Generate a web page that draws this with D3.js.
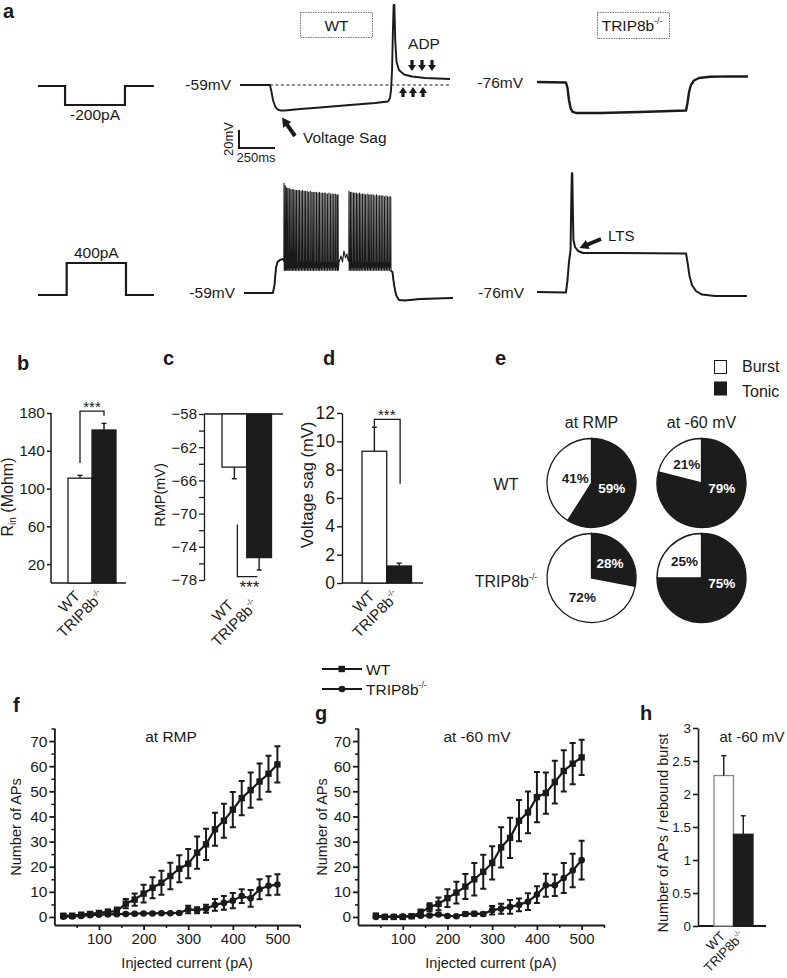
<!DOCTYPE html>
<html>
<head>
<meta charset="utf-8">
<script src="https://cdn.jsdelivr.net/npm/d3@7/dist/d3.min.js"></script>
<style>
  html,body{margin:0;padding:0;background:#fff;}
  svg{display:block;}
  text{font-family:"Liberation Sans",Arial,Helvetica,sans-serif;}
</style>
</head>
<body>
<svg id="fig" width="787" height="978" viewBox="0 0 787 978"></svg>
<script>
// ======================= DATA =======================
const genotypes = ["WT", "TRIP8b-/-"];

// b: input resistance (Mohm)
const rinValues = [111, 162];
const rinErrors = [3, 7];
const rinTicks = [20, 60, 100, 140, 180];

// c: resting membrane potential (mV)
const rmpValues = [-64.4, -75.3];
const rmpErrors = [1.4, 1.5];
const rmpTicks = [-58, -62, -66, -70, -74, -78];
const rmpMinorTicks = [-60, -64, -68, -72, -76];

// d: voltage sag (mV)
const sagValues = [9.3, 1.2];
const sagErrors = [1.7, 0.2];
const sagTicks = [0, 2, 4, 6, 8, 10, 12];

// e: firing mode percentages  [row WT / TRIP8b][column at RMP / at -60 mV]
const pieColumns = ["at RMP", "at -60 mV"];
const pieRows = ["WT", "TRIP8b-/-"];
const firingModes = ["Burst", "Tonic"];
const tonicPercent = [[59, 79], [28, 75]];
const burstPercent = [[41, 21], [72, 25]];

// f: number of APs at RMP
const fCurrents = [20,40,60,80,100,120,140,160,180,200,220,240,260,280,300,320,340,360,380,400,420,440,460,480,500];
const fWT    = [0.5,0.5,0.9,1.2,1.6,2.0,2.3,5.3,6.9,9.3,11.6,13.6,16.3,19.2,21.2,25.6,28.9,34.9,38.3,42.7,47.3,50.5,53.9,57.0,60.7];
const fWTErr = [0.6,0.6,0.6,0.7,0.8,1.0,1.5,1.8,2.4,3.5,4.2,4.8,5.3,5.4,5.8,6.4,6.2,6.6,6.8,7.0,6.8,7.0,7.2,7.2,7.2];
const fKO    = [0.1,0.2,0.4,0.7,0.9,1.0,1.1,1.2,1.3,1.4,1.4,1.5,1.5,1.6,3.0,2.7,3.3,4.8,5.6,6.5,8.3,7.4,11.0,12.4,12.9];
const fKOErr = [0.3,0.3,0.3,0.3,0.3,0.3,0.3,0.3,0.3,0.3,0.3,0.3,0.3,0.4,1.5,1.2,1.6,2.3,2.7,3.0,2.7,3.3,4.0,3.8,4.1];

// g: number of APs at -60 mV
const gCurrents = [40,60,80,100,120,140,160,180,200,220,240,260,280,300,320,340,360,380,400,420,440,460,480,500];
const gWT    = [0.5,0.0,0.0,0.0,0.3,1.8,3.9,5.2,7.5,9.7,12.1,15.0,18.0,21.5,27.7,31.5,38.3,41.6,47.7,49.3,53.7,58.1,61.0,63.5];
const gWTErr = [0.8,0.5,0.4,0.4,0.5,1.2,1.6,2.5,3.5,4.3,5.0,6.5,6.8,6.6,8.0,8.0,8.2,8.3,10.0,8.2,8.5,8.2,8.2,7.0];
const gKO    = [0.0,0.1,0.1,0.2,0.3,0.5,0.6,1.0,0.4,0.3,1.2,1.3,1.2,2.7,3.3,4.0,4.8,6.1,8.9,12.6,12.6,15.5,18.5,22.6];
const gKOErr = [0.3,0.3,0.3,0.3,0.3,0.3,0.3,0.4,0.3,0.3,0.8,0.8,0.6,1.7,2.0,2.7,2.5,3.3,3.3,4.6,4.3,6.0,6.7,7.7];

const apTicks = [0, 10, 20, 30, 40, 50, 60, 70];
const apMinorTicks = [5, 15, 25, 35, 45, 55, 65, 75];
const currentTicks = [100, 200, 300, 400, 500];
const currentMinorTicks = [50, 150, 250, 350, 450, 550];

// h: APs per rebound burst at -60 mV
const reboundValues = [2.28, 1.39];
const reboundErrors = [0.30, 0.28];
const reboundTicks = [0, 0.5, 1, 1.5, 2, 2.5, 3];
const reboundTickLabels = ["0", "0.5", "1", "1.5", "2", "2.5", "3"];

// a: stimulus protocols (ms, pA)
const stimNegTime = [0, 188, 188, 604, 604, 805];
const stimNegAmp  = [0, 0, -200, -200, 0, 0];
const stimPosTime = [0, 199, 199, 611, 611, 805];
const stimPosAmp  = [0, 0, 400, 400, 0, 0];
const restWT = -59, restKO = -76;
const scaleBarMs = 250, scaleBarMV = 20;

// a: voltage traces [ms, mV]
const wtHypTrace = [[0,-59],[208,-59],[219,-66.8],[229,-75.7],[243,-82.3],[257,-85.7],[278,-87.3],[313,-87.3],
  [417,-85.7],[556,-84],[764,-81.2],[938,-79],[1028,-77.3],[1042,-73.4],[1049,-64.6],[1056,-42.3],[1062,2],
  [1067,30],[1072,30],[1078,-9],[1087,-33.4],[1104,-42.3],[1139,-47.3],[1194,-49.6],[1285,-51.2],[1458,-52.3]];
const koHypTrace = [[0,-76],[201,-76.6],[212,-82.7],[222,-96],[233,-104.9],[247,-109.3],[271,-110.4],[438,-110.4],
  [715,-109.3],[1035,-107.7],[1045,-99.3],[1056,-87.1],[1069,-79.3],[1090,-74.3],[1125,-71.6],[1201,-70.2],
  [1340,-69.7],[1465,-69.9]];
const koDepTrace = [[0,-76],[201,-76.6],[212,-62.7],[222,-42.7],[233,-29.3],[238,26],[242,56],[245,56],[249,15],
  [253,-18],[264,-26],[285,-30.4],[319,-32.7],[576,-32.7],[1035,-33.2],[1045,-42.7],[1059,-58.2],[1076,-68.2],
  [1104,-74.9],[1146,-78.8],[1236,-80.4],[1458,-80.4]];
const wtDepPre  = [[0,-59],[201,-59],[212,-50],[222,-31],[233,-24.6],[250,-22.3],[271,-21.2]];
const wtDepGap  = [[660,-24.6],[674,-17.9],[684,-24.6],[694,-12.3],[705,-20],[715,-15.7],[722,-22.3]];
const wtDepPost = [[1031,-35.7],[1042,-50],[1056,-61.2],[1076,-66.8],[1118,-67.3],[1222,-65.7],[1451,-64.6]];
// spikes [time ms, peak mV]
const wtBurst1 = [[278,63],[287,60],[296,58],[305,57],[315,57],[325,56],[335,56],[345,56],[355,55],[365,55],
  [376,55],[386,55],[397,54],[407,55],[418,54],[428,54],[439,54],[449,53],[460,54],[471,53],[481,53],[492,53],
  [503,53],[514,52],[524,53],[535,52],[546,52],[557,52],[568,52],[579,51],[590,52],[601,51],[612,51],[623,51],
  [634,51],[645,50],[653,50]];
const wtBurst2 = [[729,54],[739,53],[749,53],[760,52],[770,52],[781,52],[791,51],[802,52],[812,51],[823,51],
  [834,51],[844,50],[855,51],[866,50],[876,50],[887,50],[898,50],[909,49],[920,50],[931,49],[942,49],[953,49],
  [964,49],[975,48],[986,49],[997,48],[1008,48],[1019,48]];
const spikeThresholdMV = -24, spikeTroughMV = -34;

// ======================= DRAWING =======================
const svg = d3.select("#fig");
const INK = "#1a1a1a";
const DARK = "#1c1c1c";

function txt(x, y, s, o = {}) {
  const t = svg.append("text").attr("x", x).attr("y", y)
    .attr("font-size", o.size || 15).attr("fill", o.fill || INK)
    .attr("text-anchor", o.anchor || "start");
  if (o.weight) t.attr("font-weight", o.weight);
  if (o.rotate !== undefined) t.attr("transform", `rotate(${o.rotate},${x},${y})`);
  if (s.endsWith("-/-")) {
    t.append("tspan").text(s.slice(0, -3));
    t.append("tspan").attr("font-size", (o.size || 15) * 0.55).attr("dy", -(o.size || 15) * 0.45).text("-/-");
  } else t.text(s);
  return t;
}
function styleAxis(sel, fs, sw) {
  sel.attr("font-size", fs).attr("font-family", null);
  sel.selectAll("path.domain").attr("stroke", INK).attr("stroke-width", sw);
  sel.selectAll(".tick line").attr("stroke", INK).attr("stroke-width", sw);
  sel.selectAll(".tick text").attr("fill", INK);
}
function arrow(x1, y1, x2, y2, shaft, headW, headL) {
  const dx = x2 - x1, dy = y2 - y1, L = Math.hypot(dx, dy), ux = dx / L, uy = dy / L, px = -uy, py = ux;
  const bx = x2 - ux * headL, by = y2 - uy * headL;
  const pts = [[x1 + px * shaft / 2, y1 + py * shaft / 2], [bx + px * shaft / 2, by + py * shaft / 2],
    [bx + px * headW / 2, by + py * headW / 2], [x2, y2], [bx - px * headW / 2, by - py * headW / 2],
    [bx - px * shaft / 2, by - py * shaft / 2], [x1 - px * shaft / 2, y1 - py * shaft / 2]];
  svg.append("path").attr("d", "M" + pts.map(p => p.join(",")).join("L") + "Z").attr("fill", INK);
}

// panel letters
[["a", 3, 18], ["b", 17, 370], ["c", 163, 365], ["d", 323, 365], ["e", 495, 365], ["f", 13, 712], ["g", 315, 720], ["h", 640, 720]]
  .forEach(([l, x, y]) => txt(x, y, l, { size: 20, weight: "bold" }));

// ---------- panel a ----------
const msPx = 0.144, mvPx = 0.9;
function traceScales(x0, yBase, vBase) {
  return {
    x: d3.scaleLinear().domain([0, 1000]).range([x0, x0 + 1000 * msPx]),
    y: d3.scaleLinear().domain([vBase, vBase + 100]).range([yBase, yBase - 100 * mvPx])
  };
}
function drawTrace(s, data, w) {
  svg.append("path").attr("d", d3.line().x(d => s.x(d[0])).y(d => s.y(d[1]))(data))
    .attr("fill", "none").attr("stroke", INK).attr("stroke-width", w).attr("stroke-linejoin", "round");
}
// stimuli
{
  const sx = d3.scaleLinear().domain([0, 1000]).range([38, 38 + 1000 * msPx]);
  const syN = d3.scaleLinear().domain([0, -200]).range([86, 105]);
  const syP = d3.scaleLinear().domain([0, 400]).range([295, 263]);
  const ln = (ys) => d3.line().x(d => sx(d[0])).y(d => ys(d[1]));
  svg.append("path").attr("d", ln(syN)(stimNegTime.map((t, i) => [t, stimNegAmp[i]])))
    .attr("fill", "none").attr("stroke", INK).attr("stroke-width", 2.2);
  svg.append("path").attr("d", ln(syP)(stimPosTime.map((t, i) => [t, stimPosAmp[i]])))
    .attr("fill", "none").attr("stroke", INK).attr("stroke-width", 2.2);
  txt(sx(396), 120, stimNegAmp[2] + "pA", { anchor: "middle", size: 15.5 });
  txt(sx(405), 258, stimPosAmp[2] + "pA", { anchor: "middle", size: 15.5 });
}
// WT hyperpolarising
{
  const s = traceScales(240, 85, restWT);
  drawTrace(s, wtHypTrace, 1.9);
  svg.append("line").attr("x1", s.x(208)).attr("x2", s.x(1458)).attr("y1", s.y(restWT)).attr("y2", s.y(restWT))
    .attr("stroke", INK).attr("stroke-width", 1).attr("stroke-dasharray", "3,2.5");
  txt(231, 90, restWT + "mV", { anchor: "end", size: 15.5 });
  // scale bar
  const bx = 239, by = 148;
  svg.append("path").attr("d", `M${bx},${by - scaleBarMV * mvPx}V${by}H${bx + scaleBarMs * msPx}`)
    .attr("fill", "none").attr("stroke", INK).attr("stroke-width", 2);
  txt(233, 139, scaleBarMV + "mV", { size: 13, anchor: "middle", rotate: -90 });
  txt(256, 162, scaleBarMs + "ms", { size: 13, anchor: "middle" });
  // sag arrow
  arrow(295, 136, s.x(292), s.y(-87.3) + 7, 4, 10, 9);
  txt(303, 143, "Voltage Sag", { size: 15.5 });
  // ADP
  txt(424, 49, "ADP", { size: 15.5, anchor: "middle" });
  [412, 422, 432].forEach(x => arrow(x, 60, x, 71, 3.2, 8, 6));
  [403, 413, 423].forEach(x => arrow(x, 97, x, 87, 3.2, 8, 6));
  // WT box
  svg.append("rect").attr("x", 300.5).attr("y", 12.5).attr("width", 72).attr("height", 25)
    .attr("fill", "none").attr("stroke", "#777").attr("stroke-width", 1).attr("stroke-dasharray", "1.5,1");
  txt(336.5, 31, genotypes[0], { size: 15.5, anchor: "middle" });
}
// TRIP8b hyperpolarising
{
  const s = traceScales(537, 82, restKO);
  drawTrace(s, koHypTrace, 2.4);
  txt(523, 88, restKO + "mV", { anchor: "end", size: 15.5 });
  svg.append("rect").attr("x", 597.5).attr("y", 12.5).attr("width", 72).attr("height", 26)
    .attr("fill", "none").attr("stroke", "#777").attr("stroke-width", 1).attr("stroke-dasharray", "1.5,1");
  txt(632, 31, genotypes[1], { size: 15.5, anchor: "middle" });
}
// WT depolarising
{
  const s = traceScales(244, 293, restWT);
  const spikes = (arr) => arr.flatMap(([t, p]) => [[t - 1.2, spikeThresholdMV], [t, p], [t + 1.5, spikeTroughMV]]);
  const pts = [...wtDepPre, ...spikes(wtBurst1), ...wtDepGap, ...spikes(wtBurst2), ...wtDepPost];
  drawTrace(s, pts, 1.1);
  drawTrace(s, wtDepPre, 1.9);
  drawTrace(s, [wtBurst2[wtBurst2.length - 1].slice(0, 1).concat([spikeTroughMV]), ...wtDepPost], 1.9);
  txt(235, 298, restWT + "mV", { anchor: "end", size: 15.5 });
}
// TRIP8b depolarising
{
  const s = traceScales(537, 292, restKO);
  drawTrace(s, koDepTrace, 2);
  txt(524, 298, restKO + "mV", { anchor: "end", size: 15.5 });
  arrow(601, 239, s.x(295), s.y(-30.4) - 3, 4, 10, 9);
  txt(608, 241, "LTS", { size: 15 });
}

// ---------- bar panel helper ----------
function bars(x, y, base, values, errors, dir, whiteStroke) {
  genotypes.forEach((gname, i) => {
    const v = values[i];
    svg.append("rect").attr("x", x(gname)).attr("width", x.bandwidth())
      .attr("y", Math.min(y(base), y(v))).attr("height", Math.abs(y(v) - y(base)))
      .attr("fill", i === 0 ? "#fff" : DARK).attr("stroke", i === 0 ? whiteStroke : DARK).attr("stroke-width", 1.3);
    const cx = x(gname) + x.bandwidth() / 2, e = v + dir * errors[i];
    svg.append("line").attr("x1", cx).attr("x2", cx).attr("y1", y(v)).attr("y2", y(e)).attr("stroke", INK).attr("stroke-width", 1.4);
    svg.append("line").attr("x1", cx - 2.5).attr("x2", cx + 2.5).attr("y1", y(e)).attr("y2", y(e)).attr("stroke", INK).attr("stroke-width", 1.4);
  });
}
function xLabels(x, yPos, size, dx) {
  genotypes.forEach(gname => {
    const cx = x(gname) + x.bandwidth() / 2 + dx;
    txt(cx, yPos, gname, { size: size, anchor: "end", rotate: -45 });
  });
}
function bracket(d) {
  svg.append("path").attr("d", d).attr("fill", "none").attr("stroke", INK).attr("stroke-width", 1.3);
}

// ---------- panel b ----------
{
  const y = d3.scaleLinear().domain([0, 180]).range([583, 413]);
  const x = d3.scaleBand().domain(genotypes).range([68, 116]);
  const ax = svg.append("g").attr("transform", "translate(51,0)")
    .call(d3.axisLeft(y).tickValues(rinTicks).tickSize(4).tickSizeOuter(0).tickPadding(2));
  ax.select("path.domain").attr("d", `M0,${y(0)}V${y(180)}`);
  styleAxis(ax, 15.5, 1.5);
  svg.append("line").attr("x1", 51).attr("x2", 126).attr("y1", y(0)).attr("y2", y(0)).attr("stroke", INK).attr("stroke-width", 1.5);
  bars(x, y, 0, rinValues, rinErrors, 1, INK);
  const c0 = x(genotypes[0]) + x.bandwidth() / 2, c1 = x(genotypes[1]) + x.bandwidth() / 2;
  bracket(`M${c0},${y(127)}V${y(182)}H${c1}V${y(177)}`);
  txt((c0 + c1) / 2, y(182) + 1, "***", { size: 15, anchor: "middle" });
  txt(13, 497, "", { size: 16, anchor: "middle", rotate: -90 })
    .call(t => { t.append("tspan").text("R"); t.append("tspan").attr("font-size", 10).attr("dy", 3).text("in");
                 t.append("tspan").attr("dy", -3).text(" (Mohm)"); });
  xLabels(x, 597, 15, 1);
}
// ---------- panel c ----------
{
  const y = d3.scaleLinear().domain([-58, -78]).range([414, 580]);
  const x = d3.scaleBand().domain(genotypes).range([222, 271.5]);
  const ax = svg.append("g").attr("transform", "translate(204,0)")
    .call(d3.axisLeft(y).tickValues(rmpTicks).tickSize(5).tickSizeOuter(0).tickPadding(2));
  styleAxis(ax, 15, 1.3);
  svg.append("g").attr("transform", "translate(204,0)")
    .call(d3.axisLeft(y).tickValues(rmpMinorTicks).tickSize(5).tickFormat(""))
    .call(g => { g.select("path.domain").remove(); g.selectAll("line").attr("stroke", INK).attr("stroke-width", 1.3); });
  svg.append("line").attr("x1", 204).attr("x2", 283).attr("y1", y(-58)).attr("y2", y(-58)).attr("stroke", INK).attr("stroke-width", 1.5);
  bars(x, y, -58, rmpValues, rmpErrors, -1, INK);
  const c0 = x(genotypes[0]) + x.bandwidth() / 2;
  bracket(`M${c0 + 3},${y(-71.3)}V${y(-77.6)}H${c0 + 23}`);
  txt(c0 + 15, 593, "***", { size: 17, anchor: "middle" });
  txt(165, 495, "RMP(mV)", { size: 14.5, anchor: "middle", rotate: -90 });
  xLabels(x, 606, 15, 0);
}
// ---------- panel d ----------
{
  const y = d3.scaleLinear().domain([0, 12]).range([583, 413]);
  const x = d3.scaleBand().domain(genotypes).range([362, 411.5]);
  const ax = svg.append("g").attr("transform", "translate(342,0)")
    .call(d3.axisLeft(y).tickValues(sagTicks).tickSize(5).tickSizeOuter(0).tickPadding(2));
  styleAxis(ax, 17.5, 1.4);
  svg.append("line").attr("x1", 342).attr("x2", 423).attr("y1", y(0)).attr("y2", y(0)).attr("stroke", INK).attr("stroke-width", 1.5);
  bars(x, y, 0, sagValues, sagErrors, 1, INK);
  const c0 = x(genotypes[0]) + x.bandwidth() / 2, c1 = x(genotypes[1]) + x.bandwidth() / 2;
  bracket(`M${c0},${y(11.05)}V${y(11.55)}H${c1 + 1}V${y(7.0)}`);
  txt((c0 + c1) / 2, y(11.55) + 0.5, "***", { size: 15, anchor: "middle" });
  txt(313, 485, "Voltage sag (mV)", { size: 16.5, anchor: "middle", rotate: -90 });
  xLabels(x, 597, 15, 1);
}

// ---------- panel e ----------
{
  const colX = [591.5, 701.5], rowY = [483, 578], r = 44.5;
  const colors = { Burst: "#fff", Tonic: DARK };
  // legend
  firingModes.forEach((m, i) => {
    svg.append("rect").attr("x", 714.5).attr("y", 360.5 + i * 21.5).attr("width", 12).attr("height", 13)
      .attr("fill", colors[m]).attr("stroke", INK).attr("stroke-width", 1);
    txt(742, 372 + i * 25, m, { size: 16 });
  });
  pieColumns.forEach((c, j) => txt(colX[j], 428, c, { size: 16, anchor: "middle" }));
  pieRows.forEach((rw, i) => txt(506, i === 0 ? 490 : 587, rw, { size: 16, anchor: "middle" }));
  const pie = d3.pie().sort(null).value(d => d.v);
  const arc = d3.arc().innerRadius(0).outerRadius(r);
  pieRows.forEach((rw, i) => pieColumns.forEach((c, j) => {
    const data = [{ m: "Tonic", v: tonicPercent[i][j] }, { m: "Burst", v: burstPercent[i][j] }];
    const g = svg.append("g").attr("transform", `translate(${colX[j]},${rowY[i]})`);
    const arcs = pie(data);
    g.selectAll("path").data(arcs).join("path").attr("d", arc)
      .attr("fill", d => colors[d.data.m]).attr("stroke", INK).attr("stroke-width", 1.3);
    arcs.forEach(a => {
      const span = a.endAngle - a.startAngle;
      const ang = span > Math.PI ? a.startAngle + 105 * Math.PI / 180 : (a.startAngle + a.endAngle) / 2;
      const rr = a.data.v < 35 ? 24 : (span > Math.PI ? 21 : 17);
      g.append("text").attr("x", rr * Math.sin(ang)).attr("y", -rr * Math.cos(ang)).attr("dy", "0.36em")
        .attr("text-anchor", "middle").attr("font-size", 13.5).attr("font-weight", "bold")
        .attr("fill", a.data.m === "Tonic" ? "#fff" : INK).text(a.data.v + "%");
    });
  }));
}

// ---------- panels f, g ----------
function apPanel(x0, x1, currents, wt, wtE, ko, koE, title, titleX, ylabX) {
  const x = d3.scaleLinear().domain([0, 550]).range([x0, x1]);
  const y = d3.scaleLinear().domain([-3.2, 75.2]).range([925, 728]);
  const ay = svg.append("g").attr("transform", `translate(${x0},0)`)
    .call(d3.axisLeft(y).tickValues(apTicks).tickSize(5).tickSizeOuter(0).tickPadding(2));
  styleAxis(ay, 15.5, 1.8);
  svg.append("g").attr("transform", `translate(${x0},0)`)
    .call(d3.axisLeft(y).tickValues(apMinorTicks).tickSize(3).tickFormat(""))
    .call(g => { g.select("path.domain").remove(); g.selectAll("line").attr("stroke", INK).attr("stroke-width", 1.5); });
  const axx = svg.append("g").attr("transform", `translate(0,${y(-3.2)})`)
    .call(d3.axisBottom(x).tickValues(currentTicks).tickSize(5).tickSizeOuter(0).tickPadding(3));
  styleAxis(axx, 15, 1.8);
  svg.append("g").attr("transform", `translate(0,${y(-3.2)})`)
    .call(d3.axisBottom(x).tickValues(currentMinorTicks).tickSize(3).tickFormat(""))
    .call(g => { g.select("path.domain").remove(); g.selectAll("line").attr("stroke", INK).attr("stroke-width", 1.5); });
  const line = d3.line().x((d, i) => x(currents[i])).y(d => y(d));
  [[wt, wtE], [ko, koE]].forEach(([vals, errs]) => {
    svg.append("path").attr("d", line(vals)).attr("fill", "none").attr("stroke", INK).attr("stroke-width", 2.2);
    vals.forEach((v, i) => {
      const cx = x(currents[i]);
      svg.append("path").attr("d", `M${cx},${y(v - errs[i])}V${y(v + errs[i])}M${cx - 3},${y(v + errs[i])}H${cx + 3}M${cx - 3},${y(v - errs[i])}H${cx + 3}`)
        .attr("stroke", INK).attr("stroke-width", 2).attr("fill", "none");
    });
  });
  wt.forEach((v, i) => svg.append("rect").attr("x", x(currents[i]) - 3.2).attr("y", y(v) - 3.2)
    .attr("width", 6.4).attr("height", 6.4).attr("fill", INK));
  ko.forEach((v, i) => svg.append("circle").attr("cx", x(currents[i])).attr("cy", y(v)).attr("r", 3.3).attr("fill", INK));
  txt(titleX, 742, title, { size: 15.5, anchor: "middle" });
  txt(ylabX, 827, "Number of APs", { size: 14.5, anchor: "middle", rotate: -90 });
  txt((x0 + x1) / 2 + 10, 968, "Injected current (pA)", { size: 14.5, anchor: "middle" });
}
apPanel(54.4, 299.7, fCurrents, fWT, fWTErr, fKO, fKOErr, pieColumns[0], 171, 21);
apPanel(358, 604, gCurrents, gWT, gWTErr, gKO, gKOErr, pieColumns[1], 477, 327);

// legend f/g
{
  [["WT", 669], ["TRIP8b-/-", 689]].forEach(([nm, yy], i) => {
    svg.append("line").attr("x1", 322).attr("x2", 362).attr("y1", yy).attr("y2", yy).attr("stroke", INK).attr("stroke-width", 2);
    if (i === 0) svg.append("rect").attr("x", 338.5).attr("y", yy - 3.2).attr("width", 6.4).attr("height", 6.4).attr("fill", INK);
    else svg.append("circle").attr("cx", 342).attr("cy", yy).attr("r", 3.3).attr("fill", INK);
    txt(366, yy + 5.5, nm, { size: 15.5 });
  });
}

// ---------- panel h ----------
{
  const y = d3.scaleLinear().domain([0, 3]).range([926, 728]);
  const x = d3.scaleBand().domain(genotypes).range([714, 753]);
  const ax = svg.append("g").attr("transform", "translate(698,0)")
    .call(d3.axisLeft(y).tickValues(reboundTicks).tickSize(5).tickSizeOuter(0).tickPadding(2)
      .tickFormat((d, i) => reboundTickLabels[i]));
  styleAxis(ax, 13.5, 1.6);
  svg.append("line").attr("x1", 698).attr("x2", 766).attr("y1", y(0)).attr("y2", y(0)).attr("stroke", INK).attr("stroke-width", 1.8);
  bars(x, y, 0, reboundValues, reboundErrors, 1, "#888");
  txt(752, 742, pieColumns[1], { size: 15, anchor: "middle" });
  txt(668, 833, "Number of APs / rebound burst", { size: 14.5, anchor: "middle", rotate: -90 });
  xLabels(x, 937, 13, 2);
}
</script>
</body>
</html>
